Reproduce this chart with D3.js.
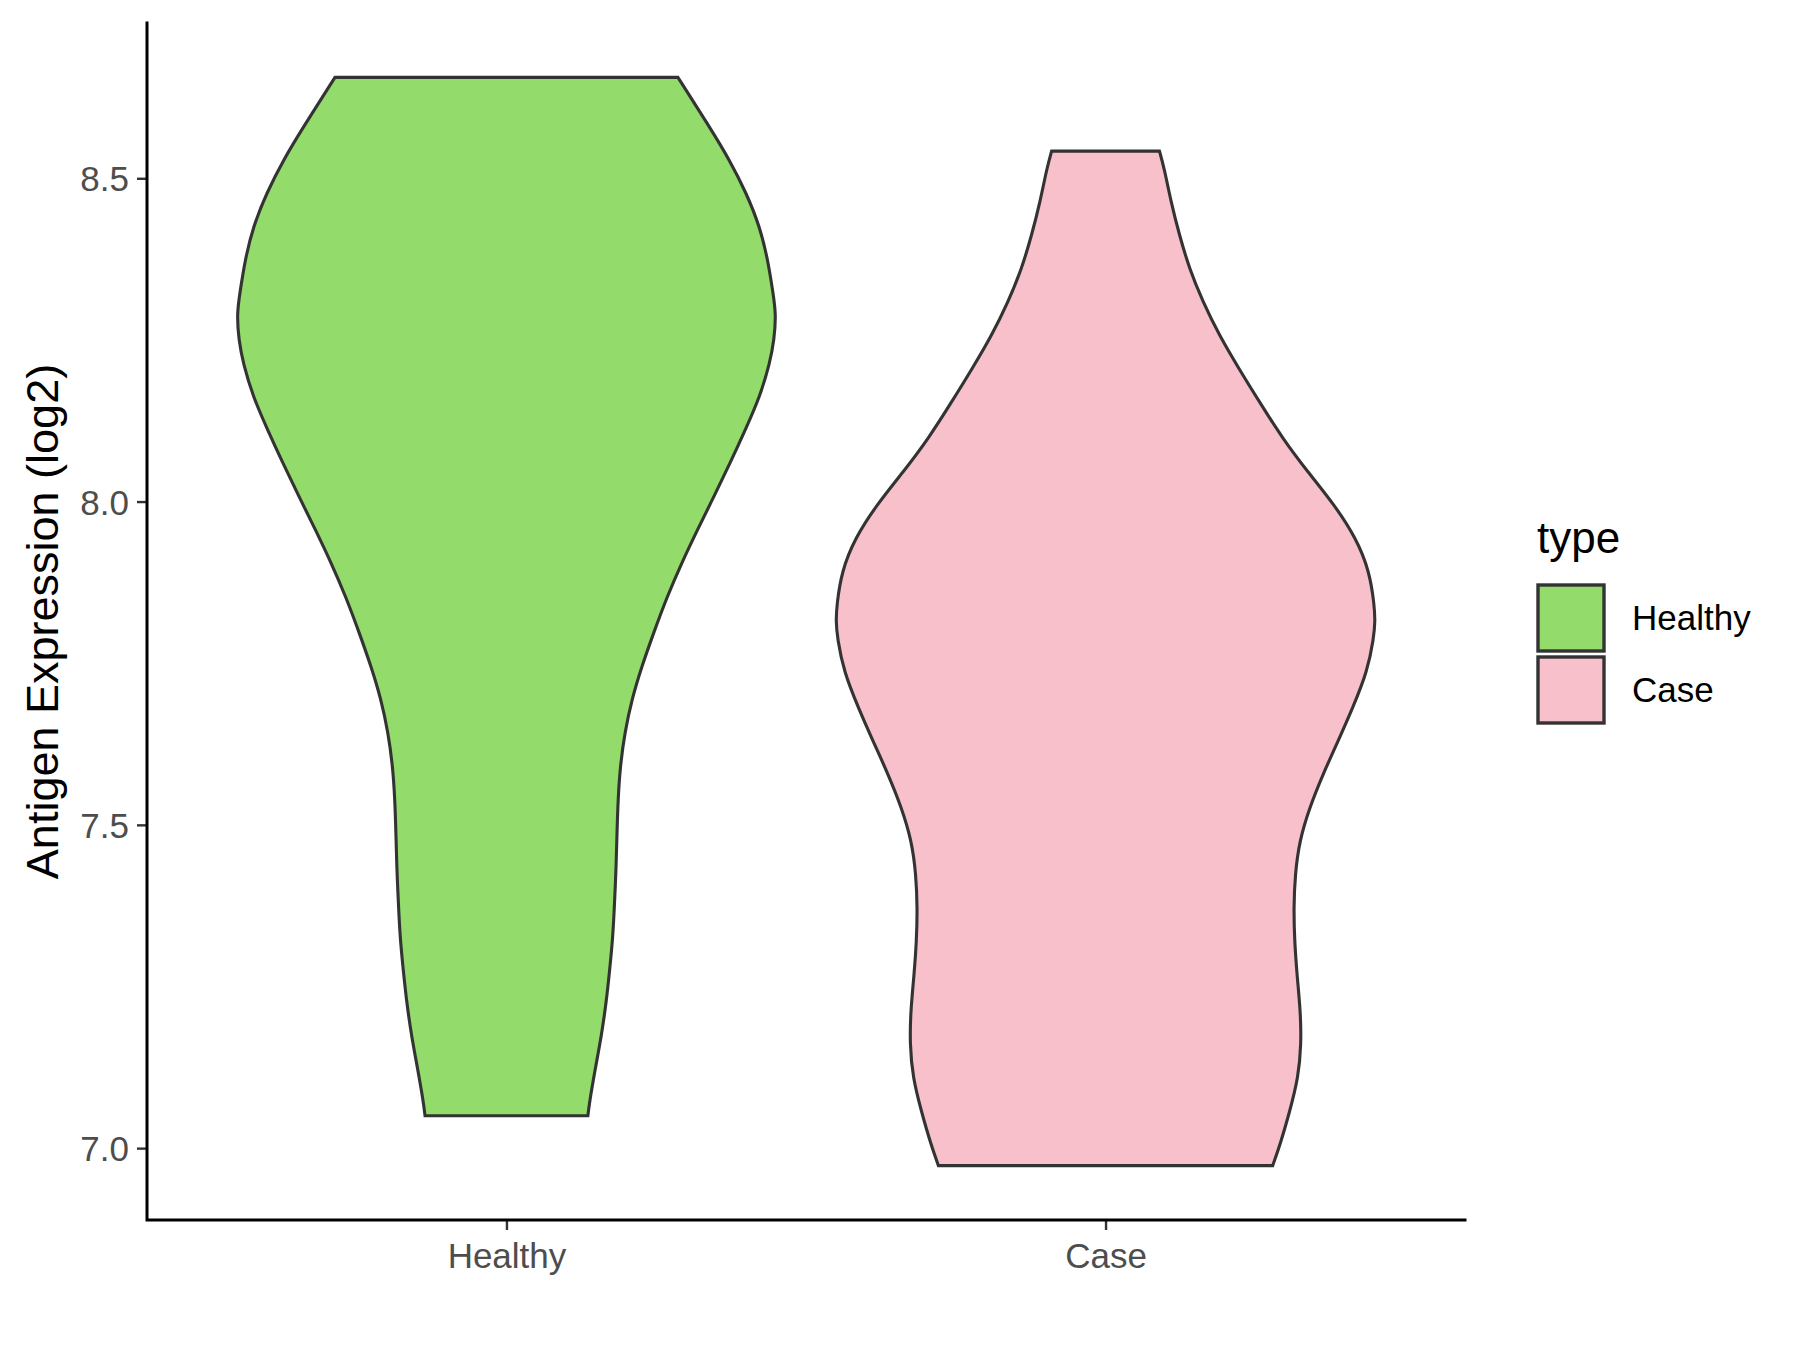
<!DOCTYPE html>
<html>
<head>
<meta charset="utf-8">
<title>Antigen Expression violin</title>
<script src="https://cdn.jsdelivr.net/npm/d3@7"></script>
<style>
  body { margin: 0; background: #ffffff; }
  svg { display: block; font-family: "Liberation Sans", Arial, sans-serif; }
</style>
</head>
<body>
<div id="vis"></div>
<script>

// groups on the x axis, in order
var groups = ['Healthy', 'Case'];
var groupColors = ['#93db6b', '#f7c0cb'];

var yTicks = [7.0, 7.5, 8.0, 8.5];

// violin outlines: expression value and relative width (1 = widest)
var healthyValues = [8.656, 8.579, 8.528, 8.477, 8.425, 8.373, 8.322, 8.290, 8.250, 8.214,
  8.162, 8.111, 8.060, 8.008, 7.956, 7.905, 7.853, 7.797, 7.745, 7.694, 7.643, 7.591,
  7.540, 7.488, 7.436, 7.380, 7.328, 7.276, 7.225, 7.173, 7.122, 7.071, 7.050];
var healthyWidths = [0.636, 0.754, 0.828, 0.890, 0.940, 0.970, 0.989, 1.000, 0.993, 0.977,
  0.940, 0.886, 0.830, 0.770, 0.708, 0.650, 0.596, 0.546, 0.502, 0.465, 0.439, 0.422,
  0.414, 0.410, 0.407, 0.401, 0.395, 0.383, 0.370, 0.352, 0.329, 0.308, 0.302];

var caseValues = [8.542, 8.515, 8.463, 8.412, 8.360, 8.309, 8.257, 8.206, 8.154, 8.098,
  8.046, 7.995, 7.943, 7.892, 7.840, 7.815, 7.789, 7.737, 7.681, 7.629, 7.578, 7.526,
  7.475, 7.423, 7.372, 7.320, 7.264, 7.212, 7.161, 7.109, 7.058, 7.006, 6.973];
var caseWidths = [0.200, 0.218, 0.243, 0.274, 0.311, 0.361, 0.422, 0.494, 0.571, 0.656,
  0.750, 0.849, 0.930, 0.979, 0.997, 1.000, 0.995, 0.971, 0.917, 0.862, 0.806, 0.756,
  0.719, 0.703, 0.698, 0.701, 0.711, 0.723, 0.726, 0.715, 0.684, 0.648, 0.620];

var yTitle = 'Antigen Expression (log2)';
var legendTitle = 'type';


function violinChart() {

  var width = 1800;
  var height = 1350;
  var plot = { left: 147, right: 1465, top: 23, bottom: 1220 };
  var lineColor = '#333333';

  var violins = [
    { group: groups[0], color: groupColors[0], values: healthyValues, widths: healthyWidths },
    { group: groups[1], color: groupColors[1], values: caseValues, widths: caseWidths }
  ];

  // ggplot style 5% expansion on the value range
  var allValues = healthyValues.concat(caseValues);
  var lo = d3.min(allValues), hi = d3.max(allValues);
  var pad = (hi - lo) * 0.05;

  var y = d3.scaleLinear()
    .domain([lo - pad, hi + pad])
    .range([plot.bottom, plot.top]);

  var x = d3.scalePoint()
    .domain(groups)
    .range([plot.left, plot.right])
    .padding(0.6);

  var halfWidth = x.step() * 0.45;

  var svg = d3.select('#vis').append('svg')
    .attr('width', width)
    .attr('height', height);

  svg.append('rect')
    .attr('width', width)
    .attr('height', height)
    .attr('fill', '#ffffff');

  // violins (basis curve evens out the reading noise)
  violins.forEach(function (v) {
    var pts = v.values.map(function (val, i) { return { value: val, w: v.widths[i] }; });
    var cx = x(v.group);

    var area = d3.area()
      .curve(d3.curveBasis)
      .y(function (d) { return y(d.value); })
      .x0(function (d) { return cx - d.w * halfWidth; })
      .x1(function (d) { return cx + d.w * halfWidth; });

    svg.append('path')
      .datum(pts)
      .attr('d', area)
      .attr('fill', v.color)
      .attr('stroke', lineColor)
      .attr('stroke-width', 3.1)
      .attr('stroke-linejoin', 'miter');
  });

  // y axis
  var yAxis = svg.append('g')
    .attr('transform', 'translate(' + plot.left + ',0)')
    .call(d3.axisLeft(y).tickValues(yTicks).tickFormat(d3.format('.1f')).tickSize(10).tickPadding(8));

  // x axis
  var xAxis = svg.append('g')
    .attr('transform', 'translate(0,' + plot.bottom + ')')
    .call(d3.axisBottom(x).tickSize(10).tickPadding(10));

  [yAxis, xAxis].forEach(function (ax) {
    ax.select('.domain').remove();
    ax.selectAll('.tick line').attr('stroke', lineColor).attr('stroke-width', 2.4);
    ax.selectAll('.tick text')
      .attr('fill', '#4d4d4d')
      .style('font-size', '35px')
      .style('font-family', '"Liberation Sans", Arial, sans-serif');
  });
  yAxis.selectAll('.tick text').attr('dy', '0.36em');
  xAxis.selectAll('.tick text').attr('dy', '0.8em');

  // axis lines drawn on top, meeting at the corner
  svg.append('path')
    .attr('d', 'M' + plot.left + ',' + plot.top + 'V' + plot.bottom + 'H' + plot.right)
    .attr('fill', 'none')
    .attr('stroke', '#000000')
    .attr('stroke-width', 3)
    .attr('stroke-linecap', 'square');

  svg.append('text')
    .attr('transform', 'translate(58,' + ((plot.top + plot.bottom) / 2) + ') rotate(-90)')
    .attr('text-anchor', 'middle')
    .attr('fill', '#000000')
    .style('font-size', '45px')
    .text(yTitle);

  // legend
  var legend = svg.append('g').attr('transform', 'translate(1537,0)');

  legend.append('text')
    .attr('x', 0)
    .attr('y', 553)
    .attr('fill', '#000000')
    .style('font-size', '44px')
    .text(legendTitle);

  var keys = legend.selectAll('.key')
    .data(violins)
    .enter().append('g')
    .attr('class', 'key')
    .attr('transform', function (d, i) { return 'translate(0,' + (585 + i * 72) + ')'; });

  keys.append('rect')
    .attr('x', 1)
    .attr('y', 0)
    .attr('width', 66)
    .attr('height', 66)
    .attr('fill', function (d) { return d.color; })
    .attr('stroke', lineColor)
    .attr('stroke-width', 3.4);

  keys.append('text')
    .attr('x', 95)
    .attr('y', 45)
    .attr('fill', '#000000')
    .style('font-size', '35px')
    .text(function (d) { return d.group; });
}

violinChart();

</script>
</body>
</html>
